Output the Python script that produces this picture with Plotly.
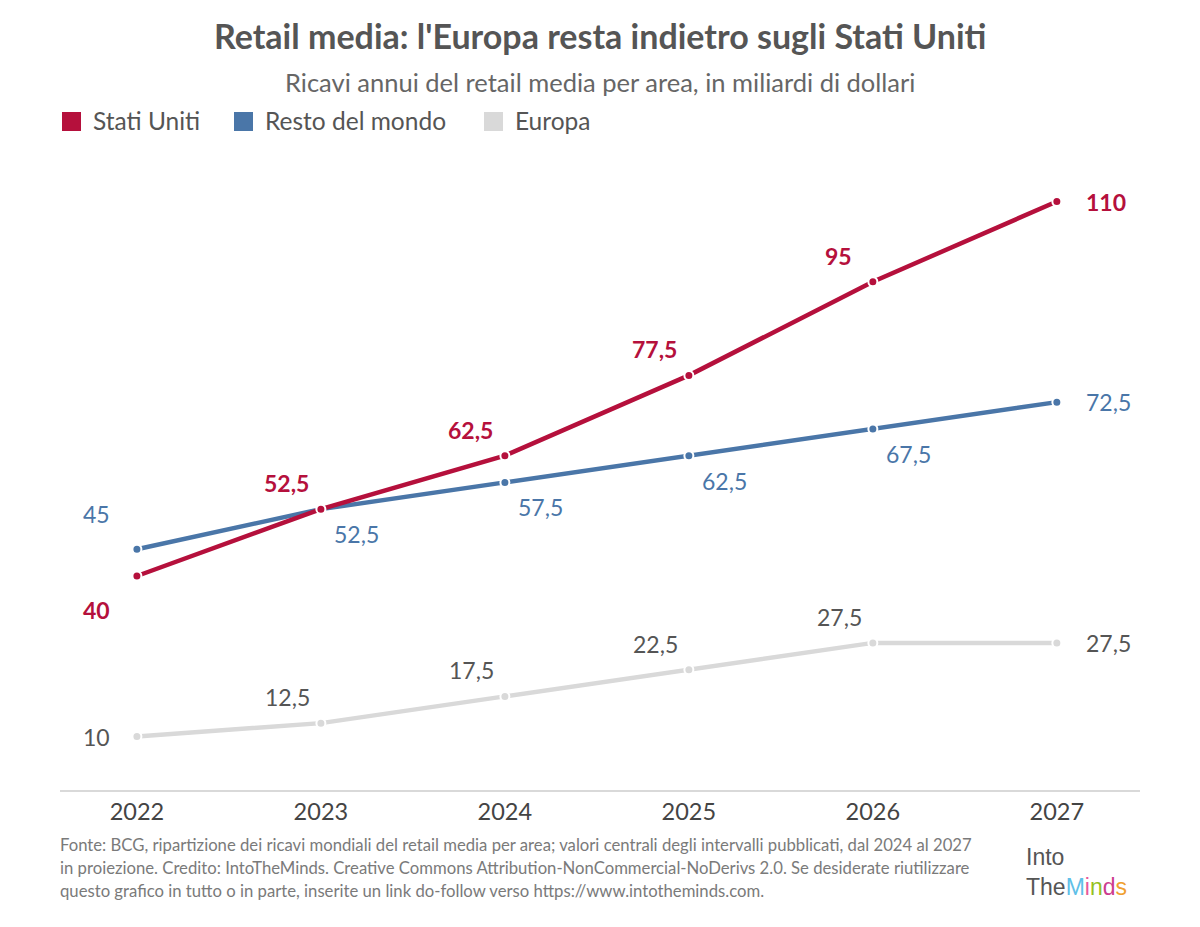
import plotly.graph_objects as go

years = [2022, 2023, 2024, 2025, 2026, 2027]
stati_uniti = [40, 52.5, 62.5, 77.5, 95, 110]
resto_mondo = [45, 52.5, 57.5, 62.5, 67.5, 72.5]
europa = [10, 12.5, 17.5, 22.5, 27.5, 27.5]

series_names = ["Stati Uniti", "Resto del mondo", "Europa"]
title = "Retail media: l'Europa resta indietro sugli Stati Uniti"
subtitle = "Ricavi annui del retail media per area, in miliardi di dollari"
footer_lines = [
    "Fonte: BCG, ripartizione dei ricavi mondiali del retail media per area; valori centrali degli intervalli pubblicati, dal 2024 al 2027",
    "in proiezione. Credito: IntoTheMinds. Creative Commons Attribution-NonCommercial-NoDerivs 2.0. Se desiderate riutilizzare",
    "questo grafico in tutto o in parte, inserite un link do-follow verso https://www.intotheminds.com.",
]

C_US = "#b5103c"
C_RM = "#4a76a8"
C_EU = "#d9d9d9"
C_EU_TXT = "#555555"
FONT = "Lato"

OFF = 8  # page body margin
W, H = 1200 - OFF, 927 - OFF
# plot area in screen pixels: x 60..1140, y 148..790
PL, PR, PT, PB = 60, 1140, 148, 790
L = PL - OFF
R = W - (PR - OFF)
T = PT - OFF
B = H - (PB - OFF)

def fmt(v):
    return ("%g" % v).replace(".", ",")

fig = go.Figure()
for name, vals, col in [("Europa", europa, C_EU), ("Resto del mondo", resto_mondo, C_RM), ("Stati Uniti", stati_uniti, C_US)]:
    fig.add_trace(go.Scatter(
        x=years, y=vals, mode="lines+markers", name=name, showlegend=False,
        line=dict(color=col, width=4.5),
        marker=dict(color=col, size=9, line=dict(color="white", width=2)),
        hoverinfo="x+y",
    ))

annotations = []

def add_labels(vals, color, bold, mid_shift, first_shift):
    n = len(vals)
    for i, (x, v) in enumerate(zip(years, vals)):
        txt = fmt(v)
        if bold:
            txt = "<b>" + txt + "</b>"
        if i == 0:
            xs, ys, xa = first_shift[0], first_shift[1], "right"
        elif i == n - 1:
            xs, ys, xa = 27, 0, "left"
        else:
            xs, ys, xa = mid_shift[0], mid_shift[1], "center"
        annotations.append(dict(
            x=x, y=v, xref="x", yref="y", text=txt, showarrow=False,
            xshift=xs, yshift=ys, xanchor=xa, yanchor="middle",
            font=dict(family=FONT, size=23, color=color),
        ))

add_labels(stati_uniti, C_US, True, (-34, 26), (-25, -34))
add_labels(resto_mondo, C_RM, False, (36, -25), (-25, 35))
add_labels(europa, C_EU_TXT, False, (-33, 26), (-25, 0))

def px_x(p):
    return (p - OFF - L) / (W - L - R)

def px_y(p):
    return (H - B - (p - OFF)) / (H - T - B)

# Title & subtitle
annotations.append(dict(xref="paper", yref="paper", x=px_x(600), y=px_y(35), text="<b>" + title + "</b>",
                        showarrow=False, xanchor="center", yanchor="middle",
                        font=dict(family=FONT, size=34, color="#555555")))
annotations.append(dict(xref="paper", yref="paper", x=px_x(600), y=px_y(82), text=subtitle,
                        showarrow=False, xanchor="center", yanchor="middle",
                        font=dict(family=FONT, size=25.5, color="#666666")))

# Legend (manual)
shapes = []
legend_items = [("Stati Uniti", C_US, 62), ("Resto del mondo", C_RM, 234), ("Europa", C_EU, 484)]
for name, col, x0 in legend_items:
    shapes.append(dict(type="rect", xref="paper", yref="paper",
                       x0=px_x(x0), x1=px_x(x0 + 19), y0=px_y(131), y1=px_y(112),
                       fillcolor=col, line=dict(width=0)))
    annotations.append(dict(xref="paper", yref="paper", x=px_x(x0 + 29), y=px_y(121), text=name,
                            showarrow=False, xanchor="left", yanchor="middle",
                            font=dict(family=FONT, size=24.5, color="#555555")))

# Footer
for i, line in enumerate(footer_lines):
    annotations.append(dict(xref="paper", yref="paper", x=px_x(58), y=px_y(845 + 23 * i), text=line,
                            showarrow=False, xanchor="left", yanchor="middle", align="left",
                            font=dict(family=FONT, size=16.7, color="#7a7a7a")))

# Logo text (single block)
logo = ("<span style='color:#555555'>Into</span><br>"
        "<span style='color:#555555'>The</span><span style='color:#5fc0e8'>M</span>"
        "<span style='color:#e8579a'>i</span><span style='color:#95c11f'>n</span>"
        "<span style='color:#cc3d8f'>d</span><span style='color:#f0a030'>s</span>")
annotations.append(dict(xref="paper", yref="paper", x=px_x(1024), y=px_y(872), text=logo,
                        showarrow=False, xanchor="left", yanchor="middle", align="left",
                        font=dict(family="Liberation Sans", size=23, color="#555555")))

fig.update_layout(
    width=W, height=H,
    margin=dict(l=L, r=R, t=T, b=B, pad=0),
    paper_bgcolor="white", plot_bgcolor="white",
    font=dict(family=FONT, color="#444444"),
    annotations=annotations, shapes=shapes,
    showlegend=False,
    xaxis=dict(range=[2021.582, 2027.452], tickmode="array", tickvals=years,
               ticktext=[str(y) for y in years], showgrid=False, zeroline=False,
               showline=True, linecolor="#d9d9d9", linewidth=2, ticks="",
               tickfont=dict(family=FONT, size=23.5, color="#444444"), fixedrange=True),
    yaxis=dict(range=[0, 120], visible=False, showgrid=False, zeroline=False, fixedrange=True),
)

fig.write_html("out.html")
